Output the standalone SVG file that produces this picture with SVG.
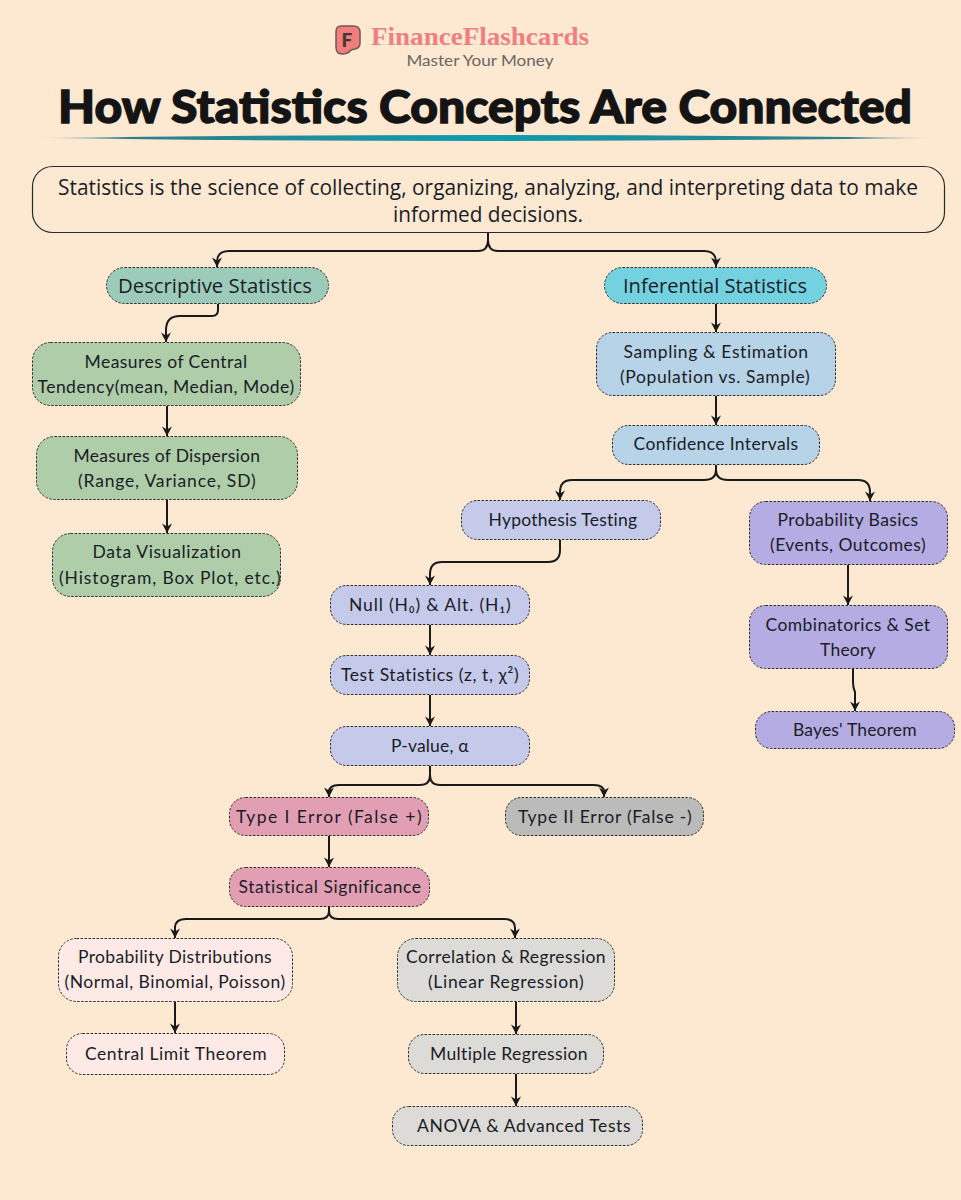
<svg xmlns="http://www.w3.org/2000/svg" width="961" height="1200" viewBox="0 0 961 1200">
<defs>
<linearGradient id="rule" x1="0" x2="1" y1="0" y2="0">
<stop offset="0" stop-color="#4a9aa3" stop-opacity=".2"/><stop offset=".1" stop-color="#2d7f88"/><stop offset=".5" stop-color="#0e9db0"/><stop offset=".9" stop-color="#2d7f88"/><stop offset="1" stop-color="#4a9aa3" stop-opacity=".2"/>
</linearGradient>
<marker id="arrow" markerUnits="userSpaceOnUse" markerWidth="12" markerHeight="12" refX="10.500" refY="6" orient="auto" viewBox="0 0 12 12">
<path d="M1 1 L4 6 L1 11 L10.500 6 Z" fill="#1a1a1a"/>
</marker>
<style>
text{font-family:"Lato","Noto Sans",sans-serif;fill:#1a1d26;text-anchor:middle}
.n{font-size:17.500px;letter-spacing:.4px}
.s{font-family:"Open Sans",sans-serif;font-size:19.500px}
.r{font-family:"Open Sans",sans-serif;font-size:21.500px}
.b{stroke:#2e2e2e;stroke-width:1;stroke-dasharray:2.500 1.500}
.c{fill:none;stroke:#1a1a1a;stroke-width:2;marker-end:url(#arrow)}
</style>
</defs>
<rect width="961" height="1200" fill="#fde8d2"/>
<g id="logo">
<path d="M341 26h12q7 0 7 6v11q0 5-5 6l-4 1q-3 4-9 4-6 0-6-7V32q0-6 5-6z" fill="#ef7f7c" stroke="#7a5650" stroke-width="1.500"/>
<text x="347" y="47" style="font-size:19px;font-weight:900;fill:#4a3633">F</text>
<text x="480" y="45" textLength="218" lengthAdjust="spacingAndGlyphs" style="font-family:'Liberation Serif',serif;font-size:26px;font-weight:700;fill:#ef7f7e">FinanceFlashcards</text>
<text x="480" y="66" textLength="147" lengthAdjust="spacingAndGlyphs" style="font-size:15.500px;fill:#6a6561">Master Your Money</text>
</g>
<g id="title">
<text x="485" y="123" textLength="854" lengthAdjust="spacingAndGlyphs" style="font-size:46px;font-weight:900;fill:#141414;stroke:#141414;stroke-width:1.300px">How Statistics Concepts Are Connected</text>
<path d="M40 138Q488 132 935 138Q488 144 40 138Z" fill="url(#rule)"/>
</g>
<g id="connectors">
<path class="c" d="M488 233V240Q488 251 478 251H229Q217 251 217 262V267"/>
<path class="c" d="M488 240Q488 251 498 251H704Q716 251 716 262V267"/>
<path class="c" d="M218 304V310Q218 316 212 316H180Q166 316 166 330V342"/>
<path class="c" d="M167 406V436"/>
<path class="c" d="M167 500V533"/>
<path class="c" d="M716 304V332"/>
<path class="c" d="M716 396V425"/>
<path class="c" d="M716 465V470Q716 480 704 480H572Q560 480 560 492V500"/>
<path class="c" d="M716 470Q716 480 728 480H858Q870 480 870 492V501"/>
<path class="c" d="M560 540V550Q560 562 548 562H442Q430 562 430 574V585"/>
<path class="c" d="M848 565V605"/>
<path class="c" d="M853 669V682Q853 688 855 692V711"/>
<path class="c" d="M430 625V655"/>
<path class="c" d="M430 695V726"/>
<path class="c" d="M430 766V775Q430 785 420 785H339Q329 785 329 792V797"/>
<path class="c" d="M430 775Q430 785 440 785H594Q604 785 604 792V797"/>
<path class="c" d="M329 836V867"/>
<path class="c" d="M329 907V911Q329 919 320 919H186Q175 919 175 928V938"/>
<path class="c" d="M329 911Q329 919 338 919H504Q515 919 515 928V938"/>
<path class="c" d="M175 1002V1033"/>
<path class="c" d="M516 1002V1034"/>
<path class="c" d="M516 1074V1106"/>
</g>
<g id="root"><rect x="32.500" y="166.500" width="912" height="66" rx="20" fill="#fde8d2" stroke="#2a2a2a" stroke-width="1.200"/>
<text class="r" x="488" y="195" textLength="860" lengthAdjust="spacingAndGlyphs">Statistics is the science of collecting, organizing, analyzing, and interpreting data to make</text>
<text class="r" x="488" y="222" textLength="190" lengthAdjust="spacingAndGlyphs">informed decisions.</text></g>
<g id="descriptive"><rect class="b" x="106.500" y="267.500" width="222" height="36" rx="18" fill="#9ccbb9"/><text class="s" x="215" y="293" textLength="194" lengthAdjust="spacingAndGlyphs">Descriptive Statistics</text></g>
<g id="inferential"><rect class="b" x="604.500" y="267.500" width="222" height="36" rx="18" fill="#74d2e0"/><text class="s" x="715" y="293" textLength="184" lengthAdjust="spacingAndGlyphs">Inferential Statistics</text></g>
<g id="central"><rect class="b" x="32.500" y="342.500" width="268" height="63" rx="18" fill="#aecda8"/><text class="n" x="166" y="368" textLength="163">Measures of Central</text><text class="n" x="166" y="393" textLength="257">Tendency(mean, Median, Mode)</text></g>
<g id="dispersion"><rect class="b" x="36.500" y="436.500" width="261" height="63" rx="18" fill="#aecda8"/><text class="n" x="167" y="462" textLength="187">Measures of Dispersion</text><text class="n" x="167" y="487" textLength="178">(Range, Variance, SD)</text></g>
<g id="visualization"><rect class="b" x="52.500" y="533.500" width="228" height="63" rx="18" fill="#aecda8"/><text class="n" x="167" y="558" textLength="149">Data Visualization</text><text class="n" x="170" y="584" textLength="222">(Histogram, Box Plot, etc.)</text></g>
<g id="sampling"><rect class="b" x="596.500" y="332.500" width="239" height="63" rx="16" fill="#b7d3e8"/><text class="n" x="716" y="358" textLength="185">Sampling &amp; Estimation</text><text class="n" x="715" y="383" textLength="190">(Population vs. Sample)</text></g>
<g id="confidence"><rect class="b" x="612.500" y="425.500" width="207" height="39" rx="16" fill="#b7d3e8"/><text class="n" x="716" y="450" textLength="165">Confidence Intervals</text></g>
<g id="hypothesis"><rect class="b" x="461.500" y="500.500" width="199" height="39" rx="16" fill="#c6caea"/><text class="n" x="563" y="526" textLength="149">Hypothesis Testing</text></g>
<g id="probability"><rect class="b" x="749.500" y="501.500" width="198" height="63" rx="16" fill="#b5ace3"/><text class="n" x="848" y="526" textLength="141">Probability Basics</text><text class="n" x="848" y="551" textLength="156">(Events, Outcomes)</text></g>
<g id="combinatorics"><rect class="b" x="749.500" y="605.500" width="198" height="63" rx="16" fill="#b5ace3"/><text class="n" x="848" y="631" textLength="165">Combinatorics &amp; Set</text><text class="n" x="848" y="656" textLength="56">Theory</text></g>
<g id="bayes"><rect class="b" x="755.500" y="711.500" width="199" height="37" rx="16" fill="#b5ace3"/><text class="n" x="855" y="736" textLength="124">Bayes' Theorem</text></g>
<g id="null"><rect class="b" x="330.500" y="585.500" width="199" height="39" rx="16" fill="#c6caea"/><text class="n" x="430" y="611" textLength="162">Null (H₀) &amp; Alt. (H₁)</text></g>
<g id="test"><rect class="b" x="330.500" y="655.500" width="199" height="39" rx="16" fill="#c6caea"/><text class="n" x="430" y="681" textLength="178">Test Statistics (z, t, χ²)</text></g>
<g id="pvalue"><rect class="b" x="330.500" y="726.500" width="199" height="39" rx="16" fill="#c6caea"/><text class="n" x="430" y="752" textLength="78">P-value, α</text></g>
<g id="type1"><rect class="b" x="229.500" y="797.500" width="199" height="38" rx="16" fill="#e29fb4"/><text class="n" x="329" y="823" textLength="186">Type I Error (False +)</text></g>
<g id="type2"><rect class="b" x="505.500" y="797.500" width="198" height="38" rx="16" fill="#bbbbba"/><text class="n" x="605" y="823" textLength="174">Type II Error (False -)</text></g>
<g id="significance"><rect class="b" x="229.500" y="867.500" width="200" height="39" rx="16" fill="#e29fb4"/><text class="n" x="330" y="893" textLength="183">Statistical Significance</text></g>
<g id="distributions"><rect class="b" x="58.500" y="938.500" width="234" height="63" rx="18" fill="#fdeae6"/><text class="n" x="175" y="963" textLength="194">Probability Distributions</text><text class="n" x="175" y="988" textLength="221">(Normal, Binomial, Poisson)</text></g>
<g id="clt"><rect class="b" x="66.500" y="1033.500" width="218" height="41" rx="16" fill="#fdeae6"/><text class="n" x="176" y="1060" textLength="182">Central Limit Theorem</text></g>
<g id="correlation"><rect class="b" x="397.500" y="938.500" width="217" height="63" rx="18" fill="#dcdbd8"/><text class="n" x="506" y="963" textLength="200">Correlation &amp; Regression</text><text class="n" x="506" y="988" textLength="156">(Linear Regression)</text></g>
<g id="multiple"><rect class="b" x="408.500" y="1034.500" width="195" height="39" rx="16" fill="#dcdbd8"/><text class="n" x="509" y="1060" textLength="158">Multiple Regression</text></g>
<g id="anova"><rect class="b" x="392.500" y="1106.500" width="250" height="39" rx="16" fill="#dcdbd8"/><text class="n" x="524" y="1132" textLength="214">ANOVA &amp; Advanced Tests</text></g>
</svg>
